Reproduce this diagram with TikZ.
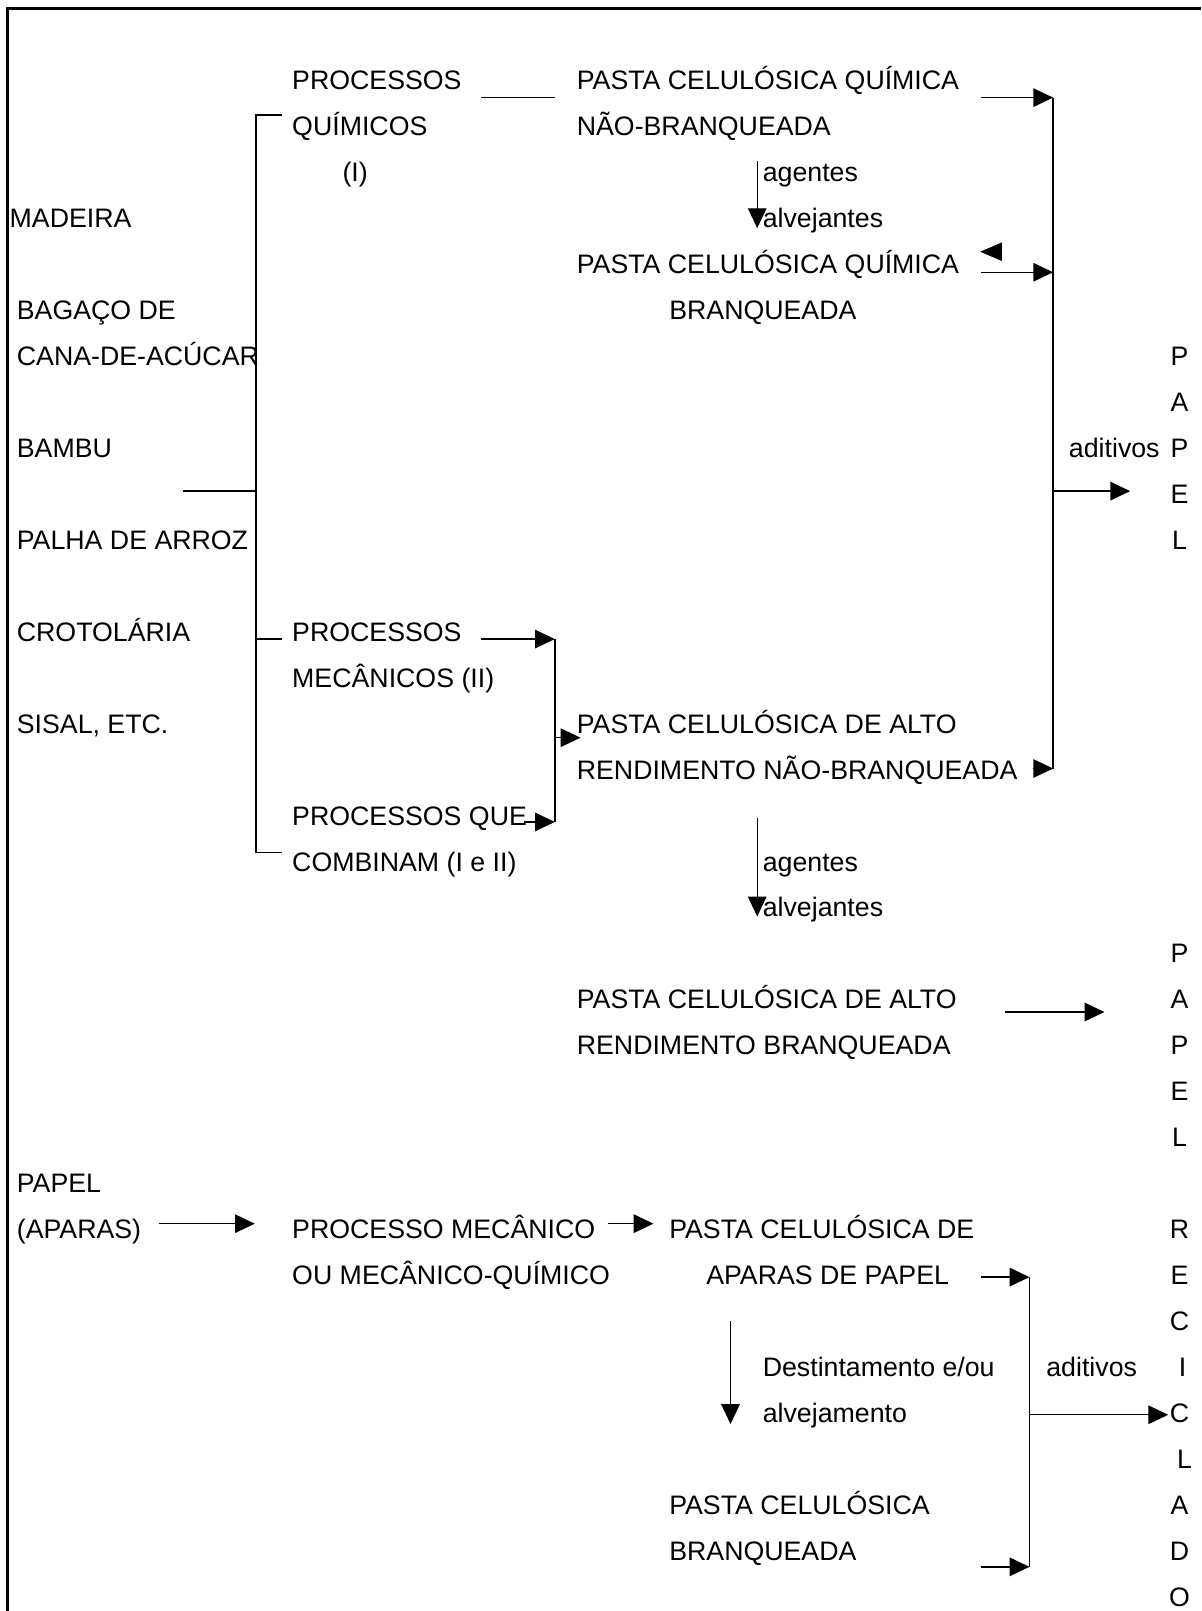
\documentclass[tikz,border=0pt]{standalone}
\usepackage{fontspec}
\setmainfont{Liberation Sans}
\usetikzlibrary{arrows.meta}

\begin{document}
\begin{tikzpicture}[x=0.467pt, y=-0.467pt,
    txt/.style={anchor=base west, inner sep=0pt, font=\fontsize{12.15}{14}\selectfont},
    letter/.style={anchor=base, inner sep=0pt, font=\fontsize{12.15}{14}\selectfont},
    link/.style={line width=0.65pt},
    arr/.style={link, -{Triangle[length=9pt, width=8.4pt]}}]
\def\rh{44.75}
\useasboundingbox (0,0) rectangle (1169,1568);
% frame: only top and left edges
\draw[line width=1.2pt] (7,1568) -- (7,8) -- (1169,8);

% raw materials
\node[txt] (mad) at (9,87+3*\rh) {MADEIRA};
\node[txt] (bag1) at (16,87+5*\rh) {BAGAÇO DE};
\node[txt] (bag2) at (16,87+6*\rh) {CANA-DE-ACÚCAR};
\node[txt] (bam) at (16,87+8*\rh) {BAMBU};
\node[txt] (pal) at (16,87+10*\rh) {PALHA DE ARROZ};
\node[txt] (cro) at (16,87+12*\rh) {CROTOLÁRIA};
\node[txt] (sis) at (16,87+14*\rh) {SISAL, ETC.};

% processes
\node[txt] (quim1) at (284,87) {PROCESSOS};
\node[txt] (quim2) at (284,87+\rh) {QUÍMICOS};
\node[txt] (quim3) at (333,87+2*\rh) {(I)};
\node[txt] (mec1) at (284,87+12*\rh) {PROCESSOS};
\node[txt] (mec2) at (284,87+13*\rh) {MECÂNICOS (II)};
\node[txt] (comb1) at (284,87+16*\rh) {PROCESSOS QUE};
\node[txt] (comb2) at (284,87+17*\rh) {COMBINAM (I e II)};

% pulps
\node[txt] (pqnb1) at (561,87) {PASTA CELULÓSICA QUÍMICA};
\node[txt] (pqnb2) at (561,87+\rh) {NÃO-BRANQUEADA};
\node[txt] (ag1a) at (742,87+2*\rh) {agentes};
\node[txt] (ag1b) at (742,87+3*\rh) {alvejantes};
\node[txt] (pqb1) at (561,87+4*\rh) {PASTA CELULÓSICA QUÍMICA};
\node[txt] (pqb2) at (651,87+5*\rh) {BRANQUEADA};
\node[txt] (patnb1) at (561,87+14*\rh) {PASTA CELULÓSICA DE ALTO};
\node[txt] (patnb2) at (561,87+15*\rh) {RENDIMENTO NÃO-BRANQUEADA};
\node[txt] (ag2a) at (742,87+17*\rh) {agentes};
\node[txt] (ag2b) at (742,87+18*\rh) {alvejantes};
\node[txt] (patb1) at (561,87+20*\rh) {PASTA CELULÓSICA DE ALTO};
\node[txt] (patb2) at (561,87+21*\rh) {RENDIMENTO BRANQUEADA};
\node[txt] (adit1) at (1040,87+8*\rh) {aditivos};

% recycled paper
\node[txt] (apa1) at (16,87+24*\rh) {PAPEL};
\node[txt] (apa2) at (16,87+25*\rh) {(APARAS)};
\node[txt] (pmq1) at (284,87+25*\rh) {PROCESSO MECÂNICO};
\node[txt] (pmq2) at (284,87+26*\rh) {OU MECÂNICO-QUÍMICO};
\node[txt] (pap1) at (651,87+25*\rh) {PASTA CELULÓSICA DE};
\node[txt] (pap2) at (687,87+26*\rh) {APARAS DE PAPEL};
\node[txt] (des1) at (742,87+28*\rh) {Destintamento e/ou};
\node[txt] (des2) at (742,87+29*\rh) {alvejamento};
\node[txt] (adit2) at (1018,87+28*\rh) {aditivos};
\node[txt] (pbr1) at (651,87+31*\rh) {PASTA CELULÓSICA};
\node[txt] (pbr2) at (651,87+32*\rh) {BRANQUEADA};

% vertical words
\foreach \c [count=\i from 6] in {P,A,P,E,L}
    \node[letter] (papel\i) at (1148,87+\i*\rh) {\c};
\foreach \c [count=\i from 19] in {P,A,P,E,L}
    \node[letter] (papelb\i) at (1148,87+\i*\rh) {\c};
\foreach \c/\dx [count=\i from 25] in {R/0,E/0,C/0,I/3,C/0,L/5,A/0,D/0,O/0}
    \node[letter] (rec\i) at (1148+\dx,87+\i*\rh) {\c};

% junction points
\coordinate (src) at (178,478);
\coordinate (brin) at (249,478);
\coordinate (brtop) at (249,112);
\coordinate (brmid) at (249,622);
\coordinate (brbot) at (249,830);
\coordinate (tktop) at (274,112);
\coordinate (tkmid) at (274,622);
\coordinate (tkbot) at (274,830);
\coordinate (qlnA) at (468,95);
\coordinate (qlnB) at (540,95);
\coordinate (pqnbR) at (955,95);
\coordinate (pqbR) at (955,265);
\coordinate (patnbR) at (1005,748);
\coordinate (colA) at (1025,95);
\coordinate (colB) at (1025,265);
\coordinate (colC) at (1025,748);
\coordinate (colO) at (1025,478);
\coordinate (papA) at (1100,478);
\coordinate (ag1s) at (737,157);
\coordinate (ag1e) at (737,222);
\coordinate (mecR) at (468,622);
\coordinate (combR) at (510,800);
\coordinate (mcA) at (540,622);
\coordinate (mcB) at (540,800);
\coordinate (mcO) at (540,718);
\coordinate (mcE) at (565,718);
\coordinate (ag2s) at (737,796);
\coordinate (ag2e) at (737,892);
\coordinate (patbR) at (978,985);
\coordinate (papB) at (1075,985);
\coordinate (apaR) at (155,1191);
\coordinate (pmqL) at (248,1191);
\coordinate (pmqR) at (592,1191);
\coordinate (papL) at (636,1191);
\coordinate (desS) at (711,1286);
\coordinate (desE) at (711,1386);
\coordinate (pap2R) at (955,1243);
\coordinate (pbrR) at (955,1525);
\coordinate (cl2A) at (1002,1243);
\coordinate (cl2B) at (1002,1525);
\coordinate (cl2O) at (1002,1377);
\coordinate (recA) at (1137,1377);

% bracket of the raw materials
\draw[link] (src) -- (brin);
\draw[link] (tktop) -- (brtop) -- (brbot) -- (tkbot);
\draw[link] (brmid) -- (tkmid);
\draw[link] (qlnA) -- (qlnB);

% chemical pulps to paper
\draw[link] (colA) -- (colC);
\draw[arr] (pqnbR) -- (colA);
\draw[arr] (pqbR) -- (colB);
\draw[arr] (patnbR) -- (colC);
\draw[arr] (colO) -- (papA);
\draw[arr] (ag1s) -- (ag1e);
\fill (954,245) -- (975,236) -- (975,254) -- cycle;

% mechanical pulps
\draw[link] (mcA) -- (mcB);
\draw[arr] (mecR) -- (mcA);
\draw[arr] (combR) -- (mcB);
\draw[arr] (mcO) -- (mcE);
\draw[arr] (ag2s) -- (ag2e);
\draw[arr] (patbR) -- (papB);

% recycled paper
\draw[arr] (apaR) -- (pmqL);
\draw[arr] (pmqR) -- (papL);
\draw[arr] (desS) -- (desE);
\draw[link] (cl2A) -- (cl2B);
\draw[arr] (pap2R) -- (cl2A);
\draw[arr] (pbrR) -- (cl2B);
\draw[arr] (cl2O) -- (recA);
\end{tikzpicture}
\end{document}
